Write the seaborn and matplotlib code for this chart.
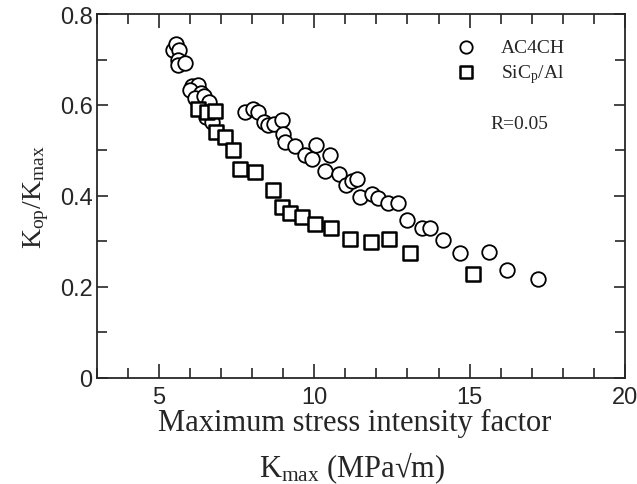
import pandas as pd
import matplotlib
matplotlib.use('Agg')
import matplotlib.pyplot as plt
import seaborn as sns
from matplotlib.ticker import MultipleLocator

# K_max (MPa sqrt m) and Kop/Kmax
ac4ch_kmax = [5.45, 5.55, 5.65, 5.6, 5.62, 5.85, 6.05, 6.25, 6.0, 6.35, 6.15, 6.45,
              6.6, 6.5, 6.7, 7.76, 8.03, 8.19, 8.38, 8.51, 8.70, 8.95, 9.00, 9.05,
              9.37, 9.70, 9.94, 10.07, 10.50, 10.34, 10.80, 11.02, 11.20, 11.36,
              11.47, 11.87, 12.06, 12.36, 12.70, 12.99, 13.48, 13.72, 14.15, 14.69,
              15.63, 16.22, 17.21]
ac4ch_ratio = [0.72, 0.735, 0.72, 0.70, 0.688, 0.692, 0.642, 0.645, 0.633, 0.626, 0.615, 0.62,
               0.607, 0.574, 0.563, 0.585, 0.592, 0.585, 0.563, 0.556, 0.559, 0.567, 0.537, 0.519,
               0.510, 0.490, 0.482, 0.513, 0.490, 0.454, 0.449, 0.425, 0.432, 0.438,
               0.398, 0.405, 0.396, 0.385, 0.385, 0.348, 0.330, 0.330, 0.303, 0.275,
               0.276, 0.238, 0.217]

sic_kmax = [6.25, 6.55, 6.8, 6.85, 7.12, 7.39, 7.62, 8.09, 8.66, 8.95, 9.21, 9.62,
            10.02, 10.55, 11.16, 11.84, 12.41, 13.08, 15.12]
sic_ratio = [0.592, 0.584, 0.586, 0.540, 0.530, 0.500, 0.460, 0.453, 0.414, 0.375, 0.363, 0.354,
             0.339, 0.329, 0.306, 0.299, 0.305, 0.274, 0.228]

df_a = pd.DataFrame({'kmax': ac4ch_kmax, 'ratio': ac4ch_ratio})
df_s = pd.DataFrame({'kmax': sic_kmax, 'ratio': sic_ratio})

sns.set_style('ticks')
plt.rcParams['font.family'] = ['Liberation Sans', 'DejaVu Sans']
plt.rcParams['mathtext.fontset'] = 'custom'
plt.rcParams['mathtext.rm'] = 'Liberation Serif'
plt.rcParams['mathtext.it'] = 'Liberation Serif:italic'
serif = ['Liberation Serif', 'DejaVu Serif']

fig = plt.figure(figsize=(6.37, 4.85), dpi=100)
ax = fig.add_axes([0.152, 0.219, 0.829, 0.750])

sns.scatterplot(data=df_a, x='kmax', y='ratio', marker='o', s=110, facecolor='white',
                edgecolor='black', linewidth=1.3, ax=ax, label='AC4CH', zorder=3)
sns.scatterplot(data=df_s, x='kmax', y='ratio', marker='s', s=110, facecolor='white',
                edgecolor='black', linewidth=1.8, ax=ax, label=r'SiC$_\mathrm{p}$/Al', zorder=4)

ax.set_xlim(3, 20)
ax.set_ylim(0, 0.8)
ax.xaxis.set_minor_locator(MultipleLocator(1))
ax.yaxis.set_minor_locator(MultipleLocator(0.1))
ax.set_xticks([5, 10, 15, 20])
ax.set_xticklabels(['5', '10', '15', '20'])
ax.set_yticks([0, 0.2, 0.4, 0.6, 0.8])
ax.set_yticklabels(['0', '0.2', '0.4', '0.6', '0.8'])
ax.tick_params(which='both', direction='in', top=True, right=True, width=1.2, labelsize=17)
ax.tick_params(axis='x', which='major', length=10, pad=6)
ax.tick_params(axis='y', which='major', length=8, pad=3)
ax.tick_params(which='minor', length=7)
for sp in ax.spines.values():
    sp.set_linewidth(1.3)

ax.set_xlabel('')
fig.text(0.557, 0.126, 'Maximum stress intensity factor', fontsize=22, family=serif,
         ha='center', va='center')
fig.text(0.553, 0.035, r'$\mathrm{K_{max}}$ (MPa' + '\u221am)', fontsize=22, family=serif,
         ha='center', va='center')
ax.set_ylabel(r'$\mathrm{K_{op}/K_{max}}$', fontsize=20, labelpad=6)

leg = ax.legend(loc='upper right', bbox_to_anchor=(0.92, 0.98), frameon=False,
                prop={'family': serif, 'size': 14}, handletextpad=0.8, labelspacing=0.3,
                markerscale=0.85)
ax.text(0.745, 0.70, 'R=0.05', transform=ax.transAxes, fontsize=14, family=serif,
        va='center')

plt.savefig('out.png', dpi=100)
